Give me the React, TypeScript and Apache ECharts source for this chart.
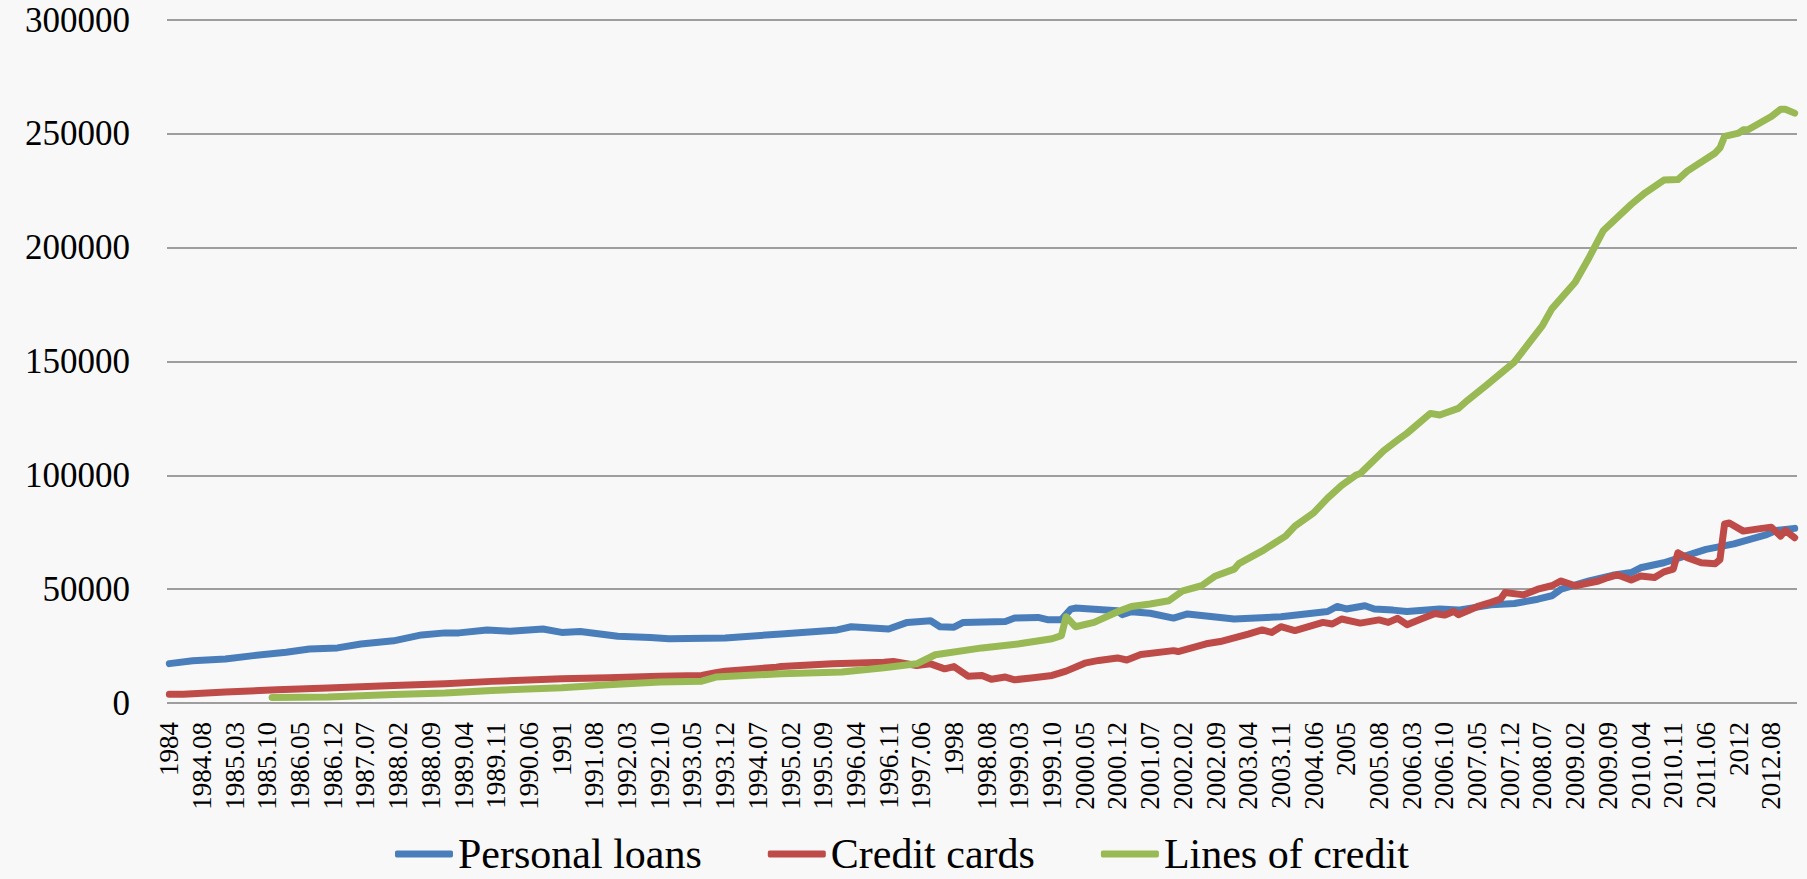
import React, { useEffect, useRef } from "react";
import * as echarts from "echarts";

// ---- Data ----
const seriesNames = ["Personal loans", "Credit cards", "Lines of credit"];
const seriesColors = ["#4A7EBB", "#BE4B48", "#98B954"];

const firstYear = 1984;
const lastMonth = "2013.01";

const yTicks = [0, 50000, 100000, 150000, 200000, 250000, 300000];

const personalLoans: [string, number][] = [
  ["1984.01", 17300], ["1984.06", 18600], ["1985.01", 19300], ["1985.07", 20800],
  ["1986.02", 22300], ["1986.07", 23700], ["1987.01", 24200], ["1987.06", 25900],
  ["1988.01", 27300], ["1988.07", 29900], ["1988.12", 30800], ["1989.03", 30800],
  ["1989.09", 32100], ["1990.02", 31500], ["1990.09", 32500], ["1991.01", 31000],
  ["1991.05", 31400], ["1992.01", 29300], ["1992.08", 28800], ["1992.12", 28200],
  ["1993.12", 28600], ["1994.12", 30300], ["1995.12", 32100], ["1996.03", 33500],
  ["1996.11", 32500], ["1997.03", 35400], ["1997.08", 36100], ["1997.10", 33500],
  ["1998.01", 33300], ["1998.03", 35400], ["1998.12", 35800], ["1999.02", 37300],
  ["1999.07", 37600], ["1999.09", 36600], ["1999.12", 36600], ["2000.02", 41200],
  ["2000.03", 41700], ["2000.12", 40500], ["2001.01", 38800], ["2001.03", 40100],
  ["2001.07", 39400], ["2001.12", 37300], ["2002.03", 39100], ["2003.01", 36900],
  ["2003.11", 37900], ["2004.09", 40200], ["2004.11", 42400], ["2005.01", 41300],
  ["2005.05", 42700], ["2005.07", 41300], ["2005.11", 40800], ["2006.02", 40200],
  ["2006.09", 41300], ["2007.01", 40800], ["2007.08", 43100], ["2008.01", 43700],
  ["2008.06", 45600], ["2008.09", 47100], ["2008.11", 50000], ["2009.05", 53600],
  ["2009.10", 56100], ["2010.02", 57300], ["2010.04", 59400], ["2010.09", 61600],
  ["2011.06", 67500], ["2011.12", 69900], ["2012.07", 74000], ["2012.09", 75800],
  ["2013.01", 76700],
];

const creditCards: [string, number][] = [
  ["1984.01", 3800], ["1984.04", 3800], ["1985.01", 4800], ["1985.12", 5800],
  ["1986.11", 6600], ["1988.01", 7700], ["1988.12", 8500], ["1989.10", 9500],
  ["1991.01", 10700], ["1991.11", 11100], ["1992.10", 11700], ["1993.07", 12100],
  ["1993.10", 13300], ["1993.12", 14000], ["1994.11", 15700], ["1994.12", 16000],
  ["1995.11", 17200], ["1996.10", 17900], ["1996.12", 18200], ["1997.05", 16500],
  ["1997.08", 17200], ["1997.11", 15000], ["1998.01", 16000], ["1998.04", 11800],
  ["1998.07", 12100], ["1998.09", 10400], ["1998.12", 11400], ["1999.02", 10200],
  ["1999.06", 11100], ["1999.10", 12100], ["2000.01", 14000], ["2000.05", 17500],
  ["2000.08", 18700], ["2000.12", 19800], ["2001.02", 18900], ["2001.05", 21300],
  ["2001.12", 23000], ["2002.01", 22600], ["2002.07", 26000], ["2002.10", 27000],
  ["2003.04", 30300], ["2003.07", 32100], ["2003.09", 31000], ["2003.11", 33500],
  ["2004.02", 31800], ["2004.08", 35400], ["2004.10", 34700], ["2004.12", 36900],
  ["2005.04", 35100], ["2005.08", 36500], ["2005.10", 35400], ["2005.12", 37200],
  ["2006.02", 34400], ["2006.05", 36900], ["2006.08", 39300], ["2006.10", 38600],
  ["2006.12", 40200], ["2007.01", 38800], ["2007.05", 42300], ["2007.08", 44200],
  ["2007.10", 45600], ["2007.11", 48500], ["2008.03", 47500], ["2008.06", 50000],
  ["2008.09", 51500], ["2008.11", 53600], ["2009.02", 51500], ["2009.07", 53600],
  ["2009.09", 55100], ["2009.11", 56300], ["2010.02", 54000], ["2010.04", 55800],
  ["2010.07", 55100], ["2010.09", 57600], ["2010.11", 58800], ["2010.12", 66000],
  ["2011.02", 63800], ["2011.05", 61600], ["2011.08", 61200], ["2011.09", 63000],
  ["2011.10", 78700], ["2011.11", 79100], ["2012.02", 75500], ["2012.06", 76700],
  ["2012.08", 77200], ["2012.10", 73300], ["2012.11", 75800], ["2013.01", 72600],
];

const linesOfCredit: [string, number][] = [
  ["1985.11", 2400], ["1986.11", 2600], ["1988.01", 3700], ["1988.12", 4400],
  ["1989.10", 5500], ["1991.01", 6700], ["1991.11", 8000], ["1992.10", 9200],
  ["1993.07", 9600], ["1993.10", 11400], ["1994.12", 12900], ["1996.01", 13600],
  ["1996.10", 15500], ["1997.05", 17200], ["1997.09", 21200], ["1998.07", 24200],
  ["1999.03", 26000], ["1999.10", 28200], ["1999.12", 29600], ["2000.01", 37900],
  ["2000.03", 33500], ["2000.07", 35400], ["2000.12", 40100], ["2001.03", 42400],
  ["2001.07", 43500], ["2001.11", 44900], ["2002.02", 49300], ["2002.06", 51500],
  ["2002.09", 55800], ["2003.01", 58800], ["2003.02", 61200], ["2003.07", 66800],
  ["2003.12", 73300], ["2004.02", 77700], ["2004.06", 83500], ["2004.09", 90000],
  ["2004.12", 95600], ["2005.03", 100000], ["2005.04", 100800], ["2005.09", 110800],
  ["2005.12", 115500], ["2006.02", 118500], ["2006.07", 127200], ["2006.09", 126500],
  ["2007.01", 129400], ["2007.03", 133000], ["2007.07", 139600], ["2008.01", 149800],
  ["2008.07", 165800], ["2008.09", 173100], ["2009.02", 184800], ["2009.05", 195700],
  ["2009.08", 207400], ["2010.02", 219000], ["2010.05", 224100], ["2010.09", 229700],
  ["2010.12", 229900], ["2011.02", 233600], ["2011.08", 241600], ["2011.09", 243800],
  ["2011.10", 248900], ["2012.01", 250300], ["2012.02", 251800], ["2012.03", 251800],
  ["2012.08", 257600], ["2012.10", 260800], ["2012.11", 260800], ["2013.01", 259100],
];

// month categories 1984.01 … 2013.01
const months: string[] = [];
for (let y = firstYear; ; y++) {
  let done = false;
  for (let m = 1; m <= 12; m++) {
    const key = `${y}.${m < 10 ? "0" + m : m}`;
    months.push(key);
    if (key === lastMonth) { done = true; break; }
  }
  if (done) break;
}

const fmtMonth = (v: string) => (v.endsWith(".01") ? v.slice(0, 4) : v);

const toData = (pairs: [string, number][]) =>
  pairs.map(([k, v]) => [months.indexOf(k), v]);

export default function App() {
  const ref = useRef<HTMLDivElement>(null);
  useEffect(() => {
    if (!ref.current) return;
    const chart = echarts.init(ref.current, null, { renderer: "svg" });
    const font = "'Liberation Serif', 'Times New Roman', serif";
    const allData = [personalLoans, creditCards, linesOfCredit];
    chart.setOption({
      animation: false,
      backgroundColor: "#f8f8f8",
      grid: { left: 167, right: 10, top: 17, bottom: 176, containLabel: false },
      legend: {
        data: seriesNames,
        left: 395,
        top: 833,
        padding: 0,
        icon: "roundRect",
        itemWidth: 58,
        itemHeight: 7,
        itemGap: 66,
        textStyle: { fontFamily: font, fontSize: 42, color: "#000", lineHeight: 34 },
      },
      xAxis: {
        type: "category",
        data: months,
        boundaryGap: true,
        axisLine: { show: false },
        axisTick: { show: false },
        axisLabel: {
          interval: 6,
          rotate: 90,
          margin: 19,
          fontFamily: font,
          fontSize: 27,
          color: "#000",
          formatter: fmtMonth,
        },
        splitLine: { show: false },
      },
      yAxis: {
        type: "value",
        min: yTicks[0],
        max: yTicks[yTicks.length - 1],
        interval: yTicks[1] - yTicks[0],
        axisLine: { show: false },
        axisTick: { show: false },
        axisLabel: {
          margin: 37,
          fontFamily: font,
          fontSize: 35,
          lineHeight: 20,
          color: "#000",
          padding: [20, 0, 0, 0],
          formatter: (v: number) => String(v),
        },
        splitLine: { show: true, lineStyle: { color: "#808080", width: 1.6 } },
      },
      series: seriesNames.map((name, i) => ({
        name,
        type: "line",
        data: toData(allData[i]),
        showSymbol: false,
        symbol: "none",
        color: seriesColors[i],
        lineStyle: { width: 7, color: seriesColors[i], cap: "round", join: "round" },
        itemStyle: { color: seriesColors[i] },
      })),
    });
    return () => chart.dispose();
  }, []);
  return (
    <div
      ref={ref}
      style={{ position: "absolute", left: 0, top: 0, width: 1807, height: 879 }}
    />
  );
}
